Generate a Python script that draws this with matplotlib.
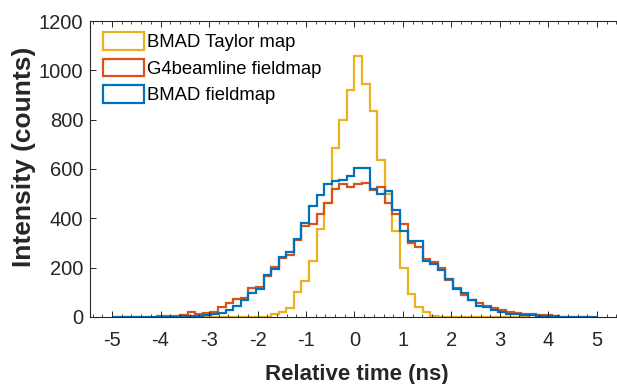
import numpy as np
import matplotlib
matplotlib.use("Agg")
import matplotlib.pyplot as plt
from matplotlib.patches import Patch

plt.rcParams['font.family'] = ['Liberation Sans', 'DejaVu Sans']

# histogram bins (ns)
bin_edges = np.linspace(-5, 5, 65)

# counts per bin
taylor_counts = [0] * 10 + [0, 0, 0, 0, 0, 0, 0, 0, 0, 0, 0,
                            12, 21, 35, 100, 147, 228, 358, 463, 684, 798, 922,
                            1058, 945, 834, 637, 497, 349, 198, 95, 41, 21, 5,
                            0, 0, 0, 0, 0, 0, 0, 0, 0, 0, 0, 0] + [0] * 9
g4bl_counts = [0, 0, 0, 0, 0, 1, 3, 3, 5, 8, 20, 12, 17, 22, 40, 55, 72, 75,
               118, 120, 165, 202, 240, 250, 312, 369, 376, 416, 463, 517, 539,
               526, 539, 543, 513, 526, 463, 418, 378, 302, 282, 237, 222, 197,
               149, 116, 88, 68, 56, 44, 36, 28, 22, 18, 12, 12, 10, 10, 8,
               0, 0, 0, 0, 0]
fieldmap_counts = [0, 0, 0, 0, 0, 0, 0, 1, 1, 2, 3, 5, 8, 12, 18, 30, 45, 68,
                   98, 115, 169, 196, 245, 265, 316, 383, 450, 495, 539, 550,
                   557, 570, 606, 604, 520, 497, 512, 434, 347, 309, 307, 229,
                   216, 189, 155, 115, 98, 68, 46, 41, 28, 21, 12, 12, 8, 8, 6,
                   3, 2, 1, 0, 0, 0, 0]

labels = ['BMAD Taylor map', 'G4beamline fieldmap', 'BMAD fieldmap']
colors = ['#EDB120', '#D95319', '#0072BD']
# first / last bin drawn for each series
bin_ranges = [(10, 54), (6, 57), (0, 63)]

x_ticks = np.arange(-5, 6, 1)
y_ticks = np.arange(0, 1201, 200)

fig = plt.figure(figsize=(6.17, 3.84), dpi=100)
ax = fig.add_axes([0.1462, 0.1745, 0.8567, 0.7708])

for counts, color, (a, b) in zip([taylor_counts, g4bl_counts, fieldmap_counts], colors, bin_ranges):
    counts = np.asarray(counts, dtype=float)
    ax.stairs(counts[a:b + 1], bin_edges[a:b + 2], color=color, lw=1.6, baseline=0)

ax.set_xlim(-5.45, 5.45)
ax.set_ylim(0, 1200)
ax.set_xticks(x_ticks)
ax.set_xticklabels([str(v) for v in x_ticks])
ax.set_yticks(y_ticks)
ax.set_xticks(np.arange(-5.4, 5.41, 0.2), minor=True)

ax.tick_params(axis='x', which='both', direction='in', top=True, colors='#262626',
               labelsize=14.5, pad=10)
ax.tick_params(axis='x', which='major', length=4, width=0.7)
ax.tick_params(axis='x', which='minor', length=2.5, width=0.6)
ax.tick_params(axis='y', which='major', direction='in', length=4, width=0.7,
               colors='#262626', labelsize=14.5, pad=5)
for sp in ax.spines.values():
    sp.set_color('#262626')
    sp.set_linewidth(0.8)
ax.spines['right'].set_visible(False)

ax.set_xlabel('Relative time (ns)', fontsize=16, fontweight='bold', color='#262626')
ax.xaxis.set_label_coords(0.505, -0.158)
ax.set_ylabel('Intensity (counts)', fontsize=19, fontweight='bold', color='#262626')
ax.yaxis.set_label_coords(-0.103, 0.54)

handles = [Patch(facecolor='white', edgecolor=c, lw=1.6) for c in colors]
ax.legend(handles, labels, loc='upper left', bbox_to_anchor=(0.024, 0.962),
          frameon=False, borderpad=0, borderaxespad=0, handlelength=2.2,
          handleheight=1.08, handletextpad=0.2, labelspacing=0.4,
          prop={'size': 13.3})

plt.savefig('out.png', dpi=100)
